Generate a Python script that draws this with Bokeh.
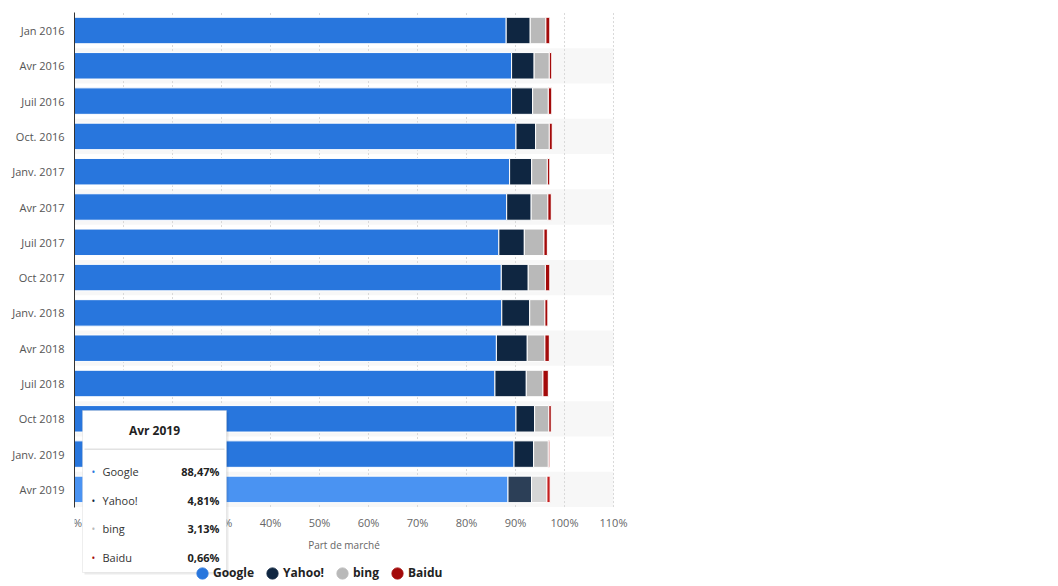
from bokeh.plotting import figure
from bokeh.models import (ColumnDataSource, Range1d, FixedTicker, LinearAxis,
                          PrintfTickFormatter, Legend, LegendItem, BoxAnnotation, Label)
from bokeh.embed import file_html
from bokeh.resources import INLINE

# ---------------- data ----------------
categories = ["Jan 2016", "Avr 2016", "Juil 2016", "Oct. 2016", "Janv. 2017", "Avr 2017",
              "Juil 2017", "Oct 2017", "Janv. 2018", "Avr 2018", "Juil 2018", "Oct 2018",
              "Janv. 2019", "Avr 2019"]
google = [88.1, 89.2, 89.2, 90.1, 88.8, 88.2, 86.6, 87.1, 87.2, 86.1, 85.8, 90.1, 89.7, 88.47]
yahoo = [4.9, 4.6, 4.3, 4.0, 4.5, 5.0, 5.2, 5.5, 5.7, 6.3, 6.4, 3.8, 4.0, 4.81]
bing = [3.2, 3.1, 3.2, 2.8, 3.2, 3.4, 4.0, 3.5, 3.1, 3.6, 3.4, 2.9, 3.0, 3.13]
baidu = [0.8, 0.5, 0.7, 0.6, 0.5, 0.7, 0.7, 0.9, 0.6, 0.9, 1.1, 0.5, 0.3, 0.66]
series_names = ["Google", "Yahoo!", "bing", "Baidu"]
x_ticks = [0, 10, 20, 30, 40, 50, 60, 70, 80, 90, 100, 110]
x_max = 110
highlighted = "Avr 2019"

# ---------------- styles ----------------
colors = ["#2876dd", "#0f2641", "#b9b9b9", "#a30a0a"]
hover_colors = ["#4a93f2", "#2c3f57", "#d6d6d6", "#c51d1d"]
FONT = "Open Sans"

series = [google, yahoo, bing, baidu]
n = len(categories)
ypos = [n - 1 - i for i in range(n)]          # top category at the top

p = figure(x_range=Range1d(0, 113.06), y_range=Range1d(-2.694, 13.85),
           frame_width=554, frame_height=584,
           min_border_left=74, min_border_right=0, min_border_top=0, min_border_bottom=0,
           x_axis_location=None,
           output_backend="svg", toolbar_location=None, outline_line_color=None)
p.background_fill_color = "white"
p.border_fill_color = "white"
p.xgrid.grid_line_color = None
p.ygrid.grid_line_color = None

# alternating bands
band_y = [y for i, y in enumerate(ypos) if i % 2 == 1]
band_src = ColumnDataSource(dict(y=band_y, l=[0] * len(band_y), r=[x_max] * len(band_y)))
p.hbar(y="y", left="l", right="r", height=1.0, source=band_src,
       fill_color="#f7f7f7", line_color=None, level="image")

# dotted grid lines limited to the bar area
grid_src = ColumnDataSource(dict(x=x_ticks, y0=[-0.5] * len(x_ticks), y1=[n - 0.5] * len(x_ticks)))
p.segment(x0="x", x1="x", y0="y0", y1="y1", source=grid_src,
          line_color="#d9d9d9", line_width=1, line_dash="2 2", level="underlay")

# stacked bars
left = [0.0] * n
for name, vals, col, hcol in zip(series_names, series, colors, hover_colors):
    right = [a + b for a, b in zip(left, vals)]
    fills = [hcol if c == highlighted else col for c in categories]
    src = ColumnDataSource(dict(y=ypos, left=left, right=right, fill=fills))
    p.hbar(y="y", left="left", right="right", height=0.75, source=src,
           fill_color="fill", line_color="white", line_width=1)
    left = right

# x axis, placed right under the bars
xaxis = LinearAxis(fixed_location=-0.5, bounds=(0, x_max))
xaxis.ticker = FixedTicker(ticks=x_ticks)
xaxis.formatter = PrintfTickFormatter(format="%d%%")
xaxis.axis_line_color = None
xaxis.major_tick_line_color = None
xaxis.minor_tick_line_color = None
xaxis.major_tick_out = 0
xaxis.major_label_standoff = 8
xaxis.major_label_text_font = FONT
xaxis.major_label_text_font_size = "11px"
xaxis.major_label_text_color = "#666666"
xaxis.axis_label = "Part de marché"
xaxis.axis_label_text_font = FONT
xaxis.axis_label_text_font_size = "10px"
xaxis.axis_label_text_font_style = "normal"
xaxis.axis_label_text_color = "#666666"
xaxis.axis_label_standoff = 4
p.add_layout(xaxis, "below")

# y axis with category labels
p.yaxis.ticker = FixedTicker(ticks=ypos)
p.yaxis.major_label_overrides = {y: c for y, c in zip(ypos, categories)}
p.yaxis.bounds = (-0.5, n - 0.5)
p.yaxis.axis_line_color = "#333333"
p.yaxis.axis_line_width = 1
p.yaxis.major_tick_line_color = None
p.yaxis.minor_tick_line_color = None
p.yaxis.major_tick_out = 0
p.yaxis.major_label_standoff = 10
p.yaxis.major_label_text_font = FONT
p.yaxis.major_label_text_font_size = "11px"
p.yaxis.major_label_text_color = "#555555"

# legend with round markers (proxy renderers holding no visible point)
legend_items = []
for name, col in zip(series_names, colors):
    r = p.ellipse(x=[float("nan")], y=[float("nan")], width=12, height=12,
                  width_units="screen", height_units="screen",
                  fill_color=col, line_color=col)
    legend_items.append(LegendItem(label=name, renderers=[r]))
legend = Legend(items=legend_items, orientation="horizontal", location=(121, 3),
                label_text_font=FONT, label_text_font_style="bold", label_text_font_size="12px",
                label_text_color="#222222", glyph_width=14, glyph_height=14, label_standoff=4,
                spacing=11, padding=0, margin=0, border_line_color=None,
                background_fill_alpha=0)
p.add_layout(legend)

# tooltip (static, as shown in the reference)
def sbox(l, r, t, b, **kw):
    return BoxAnnotation(left=l, right=r, top=t, bottom=b,
                         left_units="screen", right_units="screen",
                         top_units="screen", bottom_units="screen", level="overlay", **kw)

p.add_layout(sbox(10, 154, 172, 10, fill_color="#000000", fill_alpha=0.08, line_color=None))
p.add_layout(sbox(8, 152, 174, 12, fill_color="white", fill_alpha=1.0,
                  line_color="#c8c8c8", line_width=1))
p.add_layout(sbox(10, 150, 136, 134.5, fill_color="#e2e2e2", fill_alpha=1.0, line_color=None))
p.add_layout(Label(x=80, y=154, x_units="screen", y_units="screen", text=highlighted,
                   text_align="center", text_baseline="middle", text_font=FONT,
                   text_font_size="12px", text_font_style="bold", text_color="#222222",
                   level="overlay"))
hi = categories.index(highlighted)
row_y = [113, 84, 56, 27]
for name, vals, col, yy in zip(series_names, series, colors, row_y):
    p.add_layout(Label(x=19, y=yy, x_units="screen", y_units="screen", text="•",
                       text_align="center", text_baseline="middle", text_font=FONT,
                       text_font_size="10px", text_color=col, level="overlay"))
    p.add_layout(Label(x=28, y=yy, x_units="screen", y_units="screen", text=name,
                       text_align="left", text_baseline="middle", text_font=FONT,
                       text_font_size="11px", text_color="#333333", level="overlay"))
    txt = ("%.2f%%" % vals[hi]).replace(".", ",")
    p.add_layout(Label(x=145, y=yy, x_units="screen", y_units="screen", text=txt,
                       text_align="right", text_baseline="middle", text_font=FONT,
                       text_font_size="11px", text_font_style="bold", text_color="#222222",
                       level="overlay"))

open("out.html", "w").write(file_html(p, INLINE))
